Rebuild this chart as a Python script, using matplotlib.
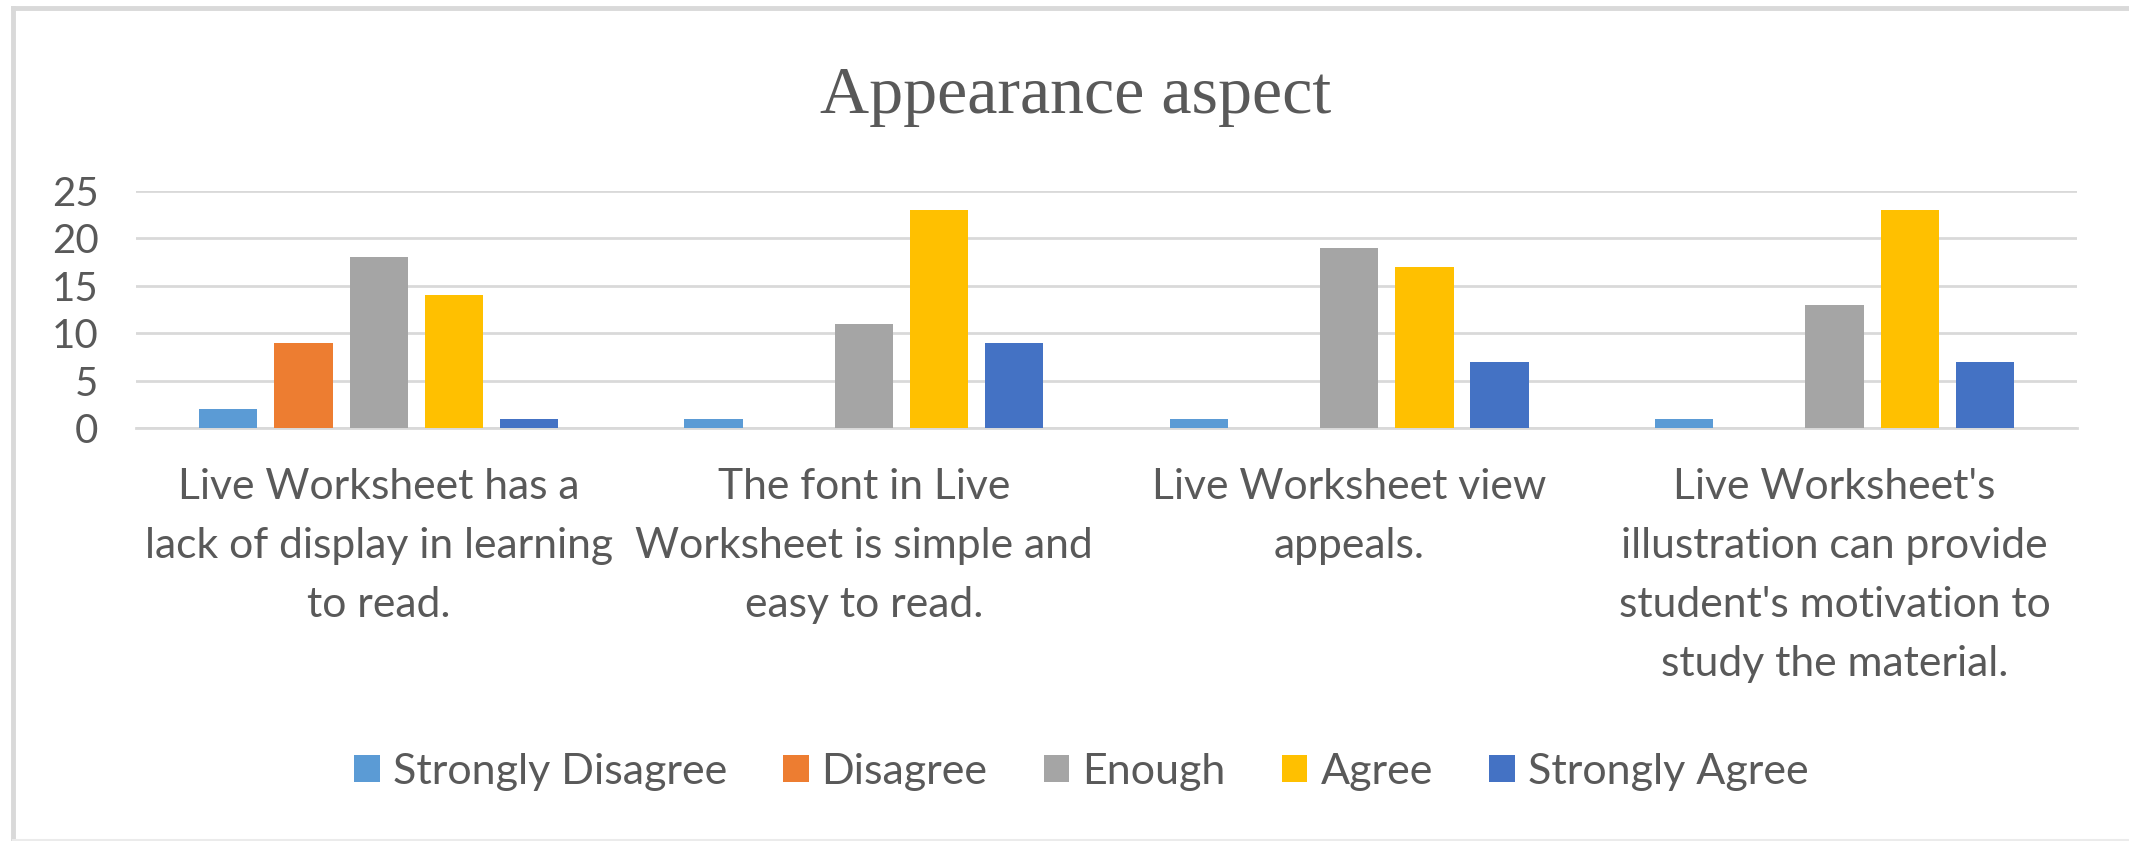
import numpy as np
import matplotlib.pyplot as plt
from matplotlib.lines import Line2D

categories = [
    "Live Worksheet has a\nlack of display in learning\nto read.",
    "The font in Live\nWorksheet is simple and\neasy to read.",
    "Live Worksheet view\nappeals.",
    "Live Worksheet's\nillustration can provide\nstudent's motivation to\nstudy the material.",
]
series_names = ["Strongly Disagree", "Disagree", "Enough", "Agree", "Strongly Agree"]
strongly_disagree = [2, 1, 1, 1]
disagree = [9, 0, 0, 0]
enough = [18, 11, 19, 13]
agree = [14, 23, 17, 23]
strongly_agree = [1, 9, 7, 7]
yticks = [0, 5, 10, 15, 20, 25]

colors = ["#5B9BD5", "#ED7D31", "#A5A5A5", "#FFC000", "#4472C4"]
text_col = "#595959"
grid_col = "#D9D9D9"
sans = "Lato"

fig = plt.figure(figsize=(21.29, 8.41), dpi=100)
ax = fig.add_axes([0.0639, 0.4911, 0.9117, 0.2818])

# chart-area frame: top and left edges, faint bottom
W, H = 2129, 841
fig.add_artist(Line2D([13 / W, 1], [1 - 8 / H, 1 - 8 / H], transform=fig.transFigure,
                      color=grid_col, linewidth=3.5))
fig.add_artist(Line2D([13 / W, 13 / W], [0, 1 - 8 / H], transform=fig.transFigure,
                      color=grid_col, linewidth=3.5))
fig.add_artist(Line2D([13 / W, 1], [1 / H, 1 / H], transform=fig.transFigure,
                      color="#EBEBEB", linewidth=1.5))

x = np.arange(len(categories))
step = 0.155
width = 0.12
all_series = [strongly_disagree, disagree, enough, agree, strongly_agree]
for i, (name, vals) in enumerate(zip(series_names, all_series)):
    ax.bar(x + (i - 2) * step, vals, width, color=colors[i], label=name, zorder=3)

ax.set_xlim(-0.5, len(categories) - 0.5)
ax.set_ylim(0, 25)
ax.set_yticks(yticks)
ax.set_xticks(x)
ax.set_xticklabels(categories, fontsize=30.7, color=text_col, family=sans, linespacing=1.67)
ax.tick_params(axis="y", labelsize=29, colors=text_col, length=0, pad=27)
ax.tick_params(axis="x", length=0, pad=29)
for lbl in ax.get_yticklabels():
    lbl.set_family(sans)

ax.grid(axis="y", color=grid_col, linewidth=2, zorder=0)
for s in ["top", "right", "left"]:
    ax.spines[s].set_visible(False)
ax.spines["bottom"].set_color(grid_col)
ax.spines["bottom"].set_linewidth(2)

fig.text(0.505, 0.885, "Appearance aspect", ha="center", va="center",
         fontsize=49, color=text_col, family="Liberation Serif")

fig.legend(loc="center", bbox_to_anchor=(1081 / W, 1 - 772 / H), ncol=5,
           frameon=False, prop={"family": sans, "size": 31}, labelcolor=text_col,
           handlelength=0.6, handleheight=0.6, handletextpad=0.3,
           columnspacing=1.3)

fig.savefig("out.png", dpi=100, facecolor="white")
